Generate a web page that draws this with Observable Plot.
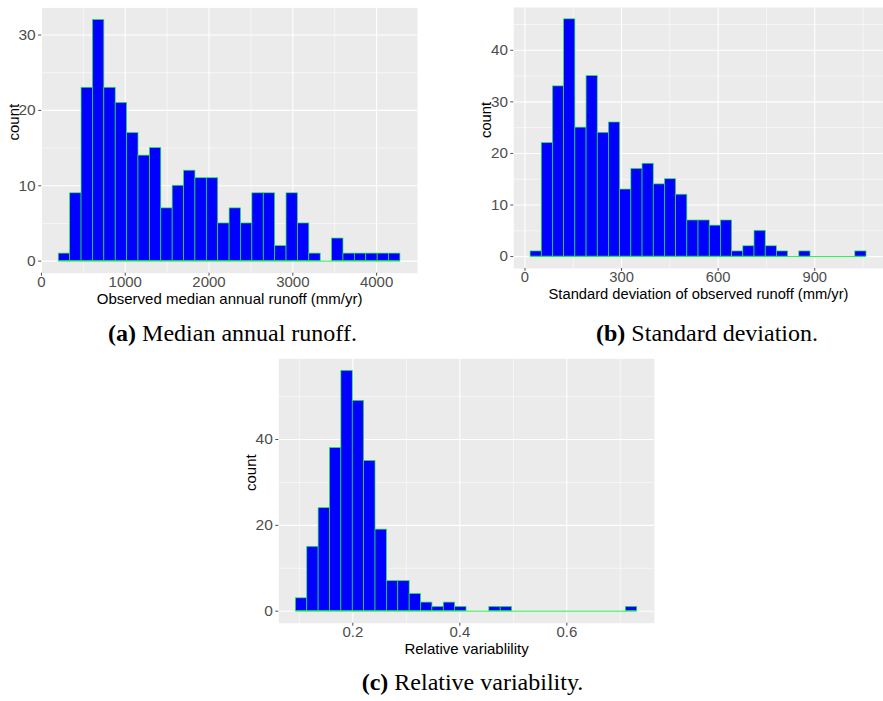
<!DOCTYPE html>
<html>
<head>
<meta charset="utf-8">
<script src="https://cdn.jsdelivr.net/npm/d3@7"></script>
<script src="https://cdn.jsdelivr.net/npm/@observablehq/plot@0.6"></script>
<style>
  html, body { margin: 0; padding: 0; background: #fff; overflow: hidden; }
  #root { position: relative; width: 883px; height: 701px; overflow: hidden; }
  .panel { position: absolute; }
  .cap { position: absolute; font-family: "Liberation Serif", "Times New Roman", serif; font-size: 24px; line-height: 24px; color: #000; white-space: nowrap; transform: translateX(-50%); }
  .cap b { font-weight: bold; }
</style>
</head>
<body>
<div id="root">
  <div class="panel" id="pa" style="left:0px;top:0px"></div>
  <div class="panel" id="pb" style="left:440px;top:0px"></div>
  <div class="panel" id="pc" style="left:240px;top:350px"></div>
  <div class="cap" id="capA" style="left:232.5px;top:320.5px"></div>
  <div class="cap" id="capB" style="left:707px;top:320.5px"></div>
  <div class="cap" id="capC" style="left:472.5px;top:670px"></div>
</div>
<script>
// ---- Data ----
// Panel (a): median annual runoff histogram, 30 bins
const aStart = 207, aWidth = 135.9;
const aCounts = [1, 9, 23, 32, 23, 21, 17, 14, 15, 7, 10, 12, 11, 11, 5, 7, 5, 9, 9, 2, 9, 5, 1, 0, 3, 1, 1, 1, 1, 1];
const aXTicks = [0, 1000, 2000, 3000, 4000];
const aXMinor = [500, 1500, 2500, 3500];
const aYTicks = [0, 10, 20, 30];
const aYMinor = [5, 15, 25];
const aXTitle = "Observed median annual runoff (mm/yr)";

// Panel (b): standard deviation histogram, 30 bins
const bStart = 17.4, bWidth = 34.78;
const bCounts = [1, 22, 33, 46, 25, 35, 24, 26, 13, 17, 18, 14, 15, 12, 7, 7, 6, 7, 1, 2, 5, 2, 1, 0, 1, 0, 0, 0, 0, 1];
const bXTicks = [0, 300, 600, 900];
const bXMinor = [150, 450, 750, 1050];
const bYTicks = [0, 10, 20, 30, 40];
const bYMinor = [5, 15, 25, 35, 45];
const bXTitle = "Standard deviation of observed runoff (mm/yr)";

// Panel (c): relative variability histogram, 30 bins
const cStart = 0.0935, cWidth = 0.02127;
const cCounts = [3, 15, 24, 38, 56, 49, 35, 19, 7, 7, 4, 2, 1, 2, 1, 0, 0, 1, 1, 0, 0, 0, 0, 0, 0, 0, 0, 0, 0, 1];
const cXTicks = [0.2, 0.4, 0.6];
const cXMinor = [0.1, 0.3, 0.5, 0.7];
const cYTicks = [0, 20, 40];
const cYMinor = [10, 30, 50];
const cXTitle = "Relative variablility";

const yTitle = "count";
const captions = [
  ["(a)", " Median annual runoff."],
  ["(b)", " Standard deviation."],
  ["(c)", " Relative variability."]
];

// ---- Helpers ----
function binTable(start, width, counts) {
  return counts.map((c, i) => ({x1: start + i * width, x2: start + (i + 1) * width, count: c}));
}

const plainFormat = d => String(+d.toFixed(6));

function histogram(cfg) {
  const data = binTable(cfg.start, cfg.width, cfg.counts);
  const lo = data[0].x1, hi = data[data.length - 1].x2;
  const pad = (hi - lo) * 0.05;
  const ymax = d3.max(cfg.counts);
  return Plot.plot({
    width: cfg.w, height: cfg.h,
    marginLeft: cfg.ml, marginRight: cfg.mr, marginTop: cfg.mt, marginBottom: cfg.mb,
    style: {fontFamily: "'Liberation Sans', Arial, sans-serif", fontSize: "15px", background: "transparent", overflow: "visible"},
    x: {domain: [lo - pad, hi + pad]},
    y: {domain: [-ymax * 0.05, ymax * 1.05]},
    marks: [
      Plot.frame({fill: "#ebebeb", stroke: null}),
      Plot.gridX({ticks: cfg.xMinor, stroke: "#fff", strokeOpacity: 1, strokeWidth: 0.55}),
      Plot.gridY({ticks: cfg.yMinor, stroke: "#fff", strokeOpacity: 1, strokeWidth: 0.55}),
      Plot.gridX({ticks: cfg.xTicks, stroke: "#fff", strokeOpacity: 1, strokeWidth: 1.1}),
      Plot.gridY({ticks: cfg.yTicks, stroke: "#fff", strokeOpacity: 1, strokeWidth: 1.1}),
      Plot.ruleY([0], {x1: lo, x2: hi, stroke: "#22ee44", strokeWidth: 1}),
      Plot.rectY(data, {x1: "x1", x2: "x2", y: "count", fill: "#0000ff", stroke: "#22ee44", strokeWidth: 0.7, inset: 0}),
      Plot.axisX({ticks: cfg.xTicks, tickFormat: plainFormat, tickSize: 3, tickPadding: 0.5, color: "#4d4d4d", label: null, fontSize: 15}),
      Plot.axisY({ticks: cfg.yTicks, tickFormat: plainFormat, tickSize: 3, tickPadding: 3, color: "#4d4d4d", label: null, fontSize: 15.5}),
      Plot.text([cfg.xTitle], {text: d => d, frameAnchor: "bottom", lineAnchor: "middle", dy: 26, fill: "#000", fontSize: 15}),
      Plot.text([yTitle], {text: d => d, frameAnchor: "left", rotate: -90, dx: -28, fill: "#000", fontSize: 15})
    ]
  });
}

document.getElementById("pa").appendChild(histogram({
  start: aStart, width: aWidth, counts: aCounts,
  xTicks: aXTicks, xMinor: aXMinor, yTicks: aYTicks, yMinor: aYMinor, xTitle: aXTitle,
  w: 440, h: 310, ml: 41.2, mr: 23, mt: 7.4, mb: 37.3
}));
document.getElementById("pb").appendChild(histogram({
  start: bStart, width: bWidth, counts: bCounts,
  xTicks: bXTicks, xMinor: bXMinor, yTicks: bYTicks, yMinor: bYMinor, xTitle: bXTitle,
  w: 451, h: 310, ml: 74.6, mr: 0.2, mt: 7.1, mb: 37.2
}));
document.getElementById("pc").appendChild(histogram({
  start: cStart, width: cWidth, counts: cCounts,
  xTicks: cXTicks, xMinor: cXMinor, yTicks: cYTicks, yMinor: cYMinor, xTitle: cXTitle,
  w: 440, h: 320, ml: 38.3, mr: 26.2, mt: 8.3, mb: 47.3
}));

["capA", "capB", "capC"].forEach((id, i) => {
  const el = document.getElementById(id);
  const b = document.createElement("b");
  b.textContent = captions[i][0];
  el.appendChild(b);
  el.appendChild(document.createTextNode(captions[i][1]));
});
</script>
</body>
</html>
